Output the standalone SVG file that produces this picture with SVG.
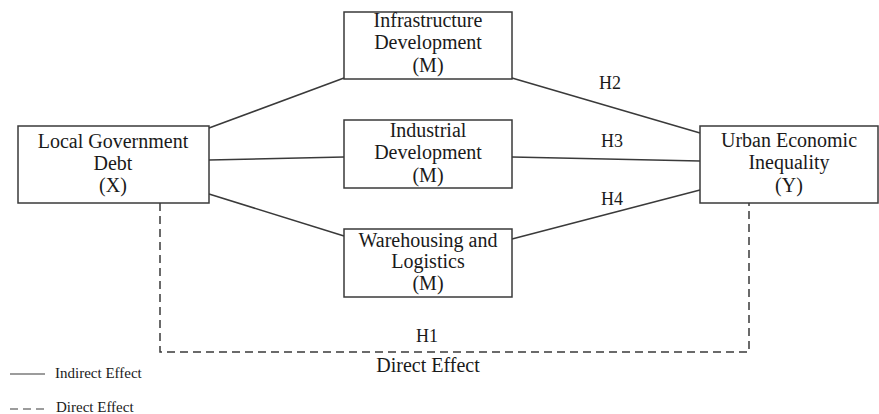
<svg xmlns="http://www.w3.org/2000/svg" width="879" height="414" viewBox="0 0 879 414">
<style>
.box{fill:#fff;stroke:#3a3a3a;stroke-width:1.5}
.ln{stroke:#3a3a3a;stroke-width:1.5;fill:none}
.dash{stroke:#3a3a3a;stroke-width:1.5;fill:none;stroke-dasharray:8 5}
text{font-family:"Liberation Serif","DejaVu Serif",serif;fill:#1a1a1a}
.t{font-size:20px;text-anchor:middle}
.h{font-size:18px;text-anchor:middle}
.lg{font-size:15px}
</style>
<rect width="879" height="414" fill="#fff"/>
<g id="connectors">
<line class="ln" x1="209" y1="128" x2="344" y2="78"/>
<line class="ln" x1="512" y1="78" x2="700" y2="133"/>
<line class="ln" x1="209" y1="160" x2="344" y2="157"/>
<line class="ln" x1="512" y1="157" x2="700" y2="161"/>
<line class="ln" x1="209" y1="194" x2="344" y2="236"/>
<line class="ln" x1="512" y1="239" x2="700" y2="190"/>
<polyline class="dash" points="160,203 160,352 749,352 749,203"/>
<text class="h" x="610" y="89">H2</text>
<text class="h" x="612" y="147">H3</text>
<text class="h" x="612" y="205">H4</text>
<text class="h" x="427" y="342">H1</text>
<text class="t" x="428" y="372">Direct Effect</text>
</g>
<g id="X">
<rect class="box" x="18" y="126" width="191" height="77"/>
<text class="t" x="113" y="148">Local Government</text>
<text class="t" x="113" y="170">Debt</text>
<text class="t" x="113" y="192">(X)</text>
</g>
<g id="M1">
<rect class="box" x="344" y="12" width="168" height="67"/>
<text class="t" x="428" y="27">Infrastructure</text>
<text class="t" x="428" y="49">Development</text>
<text class="t" x="428" y="72">(M)</text>
</g>
<g id="M2">
<rect class="box" x="344" y="120" width="168" height="68"/>
<text class="t" x="428" y="137">Industrial</text>
<text class="t" x="428" y="159">Development</text>
<text class="t" x="428" y="182">(M)</text>
</g>
<g id="M3">
<rect class="box" x="344" y="229" width="168" height="68"/>
<text class="t" x="428" y="247">Warehousing and</text>
<text class="t" x="428" y="268">Logistics</text>
<text class="t" x="428" y="290">(M)</text>
</g>
<g id="Y">
<rect class="box" x="700" y="126" width="178" height="77"/>
<text class="t" x="789" y="147">Urban Economic</text>
<text class="t" x="789" y="169">Inequality</text>
<text class="t" x="789" y="192">(Y)</text>
</g>
<g id="legend">
<line class="ln" x1="10" y1="374" x2="45" y2="374" style="stroke-width:1.2"/>
<text class="lg" x="55" y="378">Indirect Effect</text>
<line class="dash" x1="10" y1="409" x2="45" y2="409" style="stroke-dasharray:8 5;stroke-width:1.2"/>
<text class="lg" x="56" y="412">Direct Effect</text>
</g>
</svg>
